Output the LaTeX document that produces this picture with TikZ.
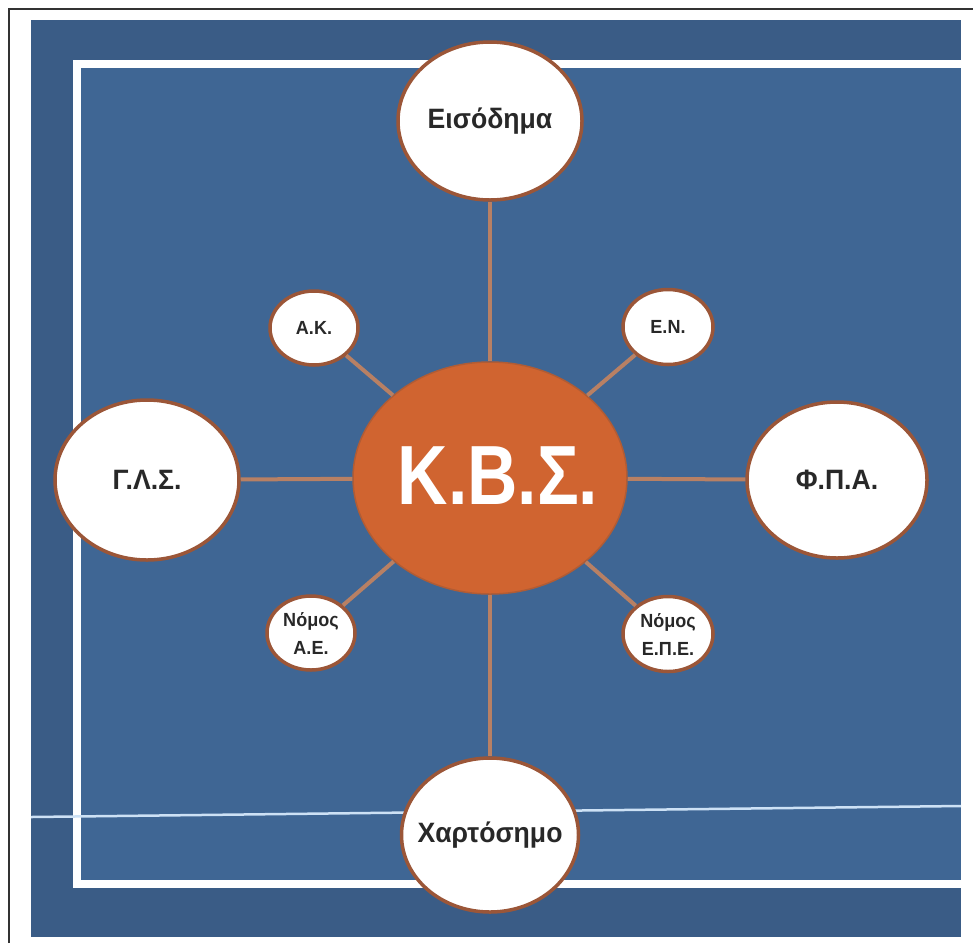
\documentclass[tikz,border=0pt]{standalone}
\usepackage{fontspec}
\setmainfont{Liberation Sans}
\newfontfamily\lblfont[FakeStretch=0.95]{Liberation Sans}
\newfontfamily\kbsfont[FakeStretch=0.83]{Liberation Sans}
\usetikzlibrary{shapes.geometric}
\definecolor{outerblue}{RGB}{58,92,134}
\definecolor{innerblue}{RGB}{63,102,148}
\definecolor{kbsorange}{RGB}{208,100,48}
\definecolor{rimbrown}{RGB}{155,86,56}
\definecolor{linktan}{RGB}{184,128,100}
\definecolor{txtgray}{RGB}{40,40,40}
\definecolor{paleline}{RGB}{205,225,245}
\begin{document}
\begin{tikzpicture}[x=1pt,y=-1pt,
  bubble/.style={ellipse, draw=rimbrown, line width=3.5pt, fill=white, inner sep=0pt},
  biglbl/.style={font=\lblfont\bfseries\fontsize{28}{30}\selectfont, text=txtgray, inner sep=0pt},
  smalllbl/.style={font=\lblfont\bfseries\fontsize{19}{28}\selectfont, text=txtgray, inner sep=0pt, align=center},
  kbslbl/.style={font=\kbsfont\bfseries\fontsize{84}{90}\selectfont, text=white, inner sep=0pt, xshift=8pt, yshift=2pt},
  link/.style={draw=linktan, line width=4pt}]

\useasboundingbox (0,0) rectangle (973,943);
\fill[white] (0,0) rectangle (973,943);
\draw[black!80, line width=1.5pt] (9,943) -- (9,9) -- (973,9);
\fill[outerblue] (31,20) rectangle (961,937);
\fill[innerblue] (77,63.5) rectangle (961,884);
\draw[white, line width=8pt] (961,63.5) -- (77,63.5) -- (77,884) -- (961,884);
\draw[paleline, line width=2.5pt] (31,817) -- (961,806);

\node[ellipse, fill=kbsorange, draw=rimbrown!60!kbsorange, line width=1.5pt, inner sep=0pt,
      minimum width=274pt, minimum height=232pt, label={[kbslbl]center:Κ.Β.Σ.}] (kbs) at (490,478) {};

\node[bubble, minimum width=184pt, minimum height=158pt, label={[biglbl]center:Εισόδημα}] (eis) at (490,121) {};
\node[bubble, minimum width=184pt, minimum height=160pt, label={[biglbl]center:Γ.Λ.Σ.}] (gas) at (147,480) {};
\node[bubble, minimum width=180pt, minimum height=156pt, label={[biglbl]center:Φ.Π.Α.}] (fpa) at (837,480) {};
\node[bubble, minimum width=177pt, minimum height=154pt, label={[biglbl]center:Χαρτόσημο}] (xar) at (490,835) {};

\node[bubble, minimum width=88pt, minimum height=74pt, label={[smalllbl]center:Α.Κ.}] (ak) at (314,328) {};
\node[bubble, minimum width=90pt, minimum height=75pt, label={[smalllbl]center:Ε.Ν.}] (en) at (668,327) {};
\node[bubble, minimum width=88pt, minimum height=74pt, label={[smalllbl]center:Νόμος\\Α.Ε.}] (nae) at (311,633) {};
\node[bubble, minimum width=90pt, minimum height=75pt, label={[smalllbl]center:Νόμος\\Ε.Π.Ε.}] (nepe) at (668,634) {};

\draw[link] (kbs) -- (eis);
\draw[link] (kbs) -- (gas);
\draw[link] (kbs) -- (fpa);
\draw[link] (kbs) -- (xar);
\draw[link] (kbs) -- (ak);
\draw[link] (kbs) -- (en);
\draw[link] (kbs) -- (nae);
\draw[link] (kbs) -- (nepe);
\end{tikzpicture}
\end{document}
